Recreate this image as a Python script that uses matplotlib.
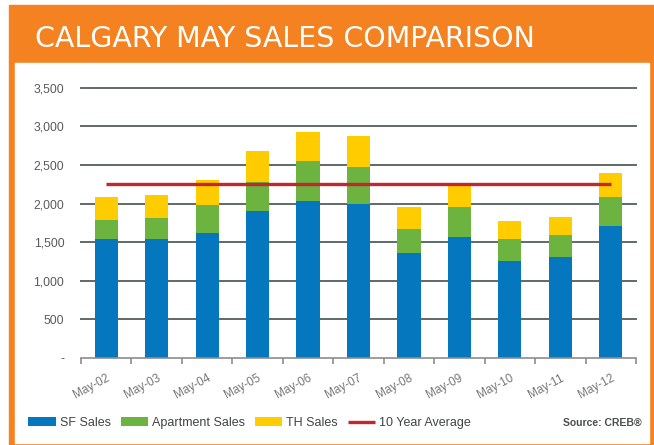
#!/usr/bin/env python3
# -*- coding: utf-8 -*-

import numpy as np
import matplotlib as mpl
mpl.use('Agg')
import matplotlib.pyplot as plt
from matplotlib.patches import Rectangle


##
## Data
##
years = ['May-02', 'May-03', 'May-04', 'May-05', 'May-06', 'May-07',
         'May-08', 'May-09', 'May-10', 'May-11', 'May-12']
sf_sales = [1538, 1538, 1625, 1901, 2031, 1988, 1366, 1564, 1253, 1305, 1703]
apt_sales = [247, 273, 359, 381, 514, 484, 306, 385, 285, 285, 384]
th_sales = [298, 298, 315, 402, 385, 406, 277, 290, 234, 238, 307]
ten_year_avg = [2256] * len(years)
yticks = [0, 500, 1000, 1500, 2000, 2500, 3000, 3500]

c_sf = '#0577BF'
c_apt = '#6CB33F'
c_th = '#FFCC00'
c_avg = '#C1272D'
c_orange = '#F58220'
c_grid = '#5E6A65'
c_text = '#5A5A5A'

W, H = 654, 445
fig = plt.figure(figsize=(W / 100, H / 100), dpi=100)
fig.patch.set_facecolor('white')

## orange frame + white panel (pixel coords -> figure fraction)
def px(x0, y0, x1, y1):
    return (x0 / W, 1 - y1 / H), (x1 - x0) / W, (y1 - y0) / H

xy, w, h = px(9, 5, 660, 450)
fig.patches.append(Rectangle(xy, w, h, transform=fig.transFigure, color=c_orange, zorder=-2))
xy, w, h = px(15, 63, 649, 443)
fig.patches.append(Rectangle(xy, w, h, transform=fig.transFigure, color='white', zorder=-1))

fig.text(35 / W, 1 - 47 / H, 'CALGARY MAY SALES COMPARISON', color='white',
         fontsize=20.5, family='DejaVu Sans', ha='left', va='baseline')


##
## Chart
##
ax = fig.add_axes([81 / W, 1 - 358 / H, (636 - 81) / W, (358 - 87.7) / H])
ax.set_facecolor('none')
x = np.arange(len(years))
bw = 0.46
sf = np.array(sf_sales)
apt = np.array(apt_sales)
th = np.array(th_sales)
b1 = ax.bar(x, sf, bw, color=c_sf, label='SF Sales', zorder=3)
b2 = ax.bar(x, apt, bw, bottom=sf, color=c_apt, label='Apartment Sales', zorder=3)
b3 = ax.bar(x, th, bw, bottom=sf + apt, color=c_th, label='TH Sales', zorder=3)
l1, = ax.plot(x, ten_year_avg, color=c_avg, lw=2.4, solid_capstyle='butt', label='10 Year Average', zorder=4)

ax.set_xlim(-0.5, len(years) - 0.5)
ax.set_ylim(0, 3500)
ax.set_yticks(yticks)
ax.set_yticklabels(['-' if v == 0 else f'{v:,}' for v in yticks])
for v in yticks[1:]:
    ax.axhline(v, color=c_grid, lw=1.4, zorder=1, clip_on=False)

for s in ['top', 'right', 'left']:
    ax.spines[s].set_visible(False)
ax.spines['bottom'].set_color('#8C8C8C')
ax.spines['bottom'].set_linewidth(1.2)
ax.spines['bottom'].set_zorder(5)

ax.set_xticks(np.arange(-0.5, len(years)), minor=False)
ax.set_xticklabels([])
ax.tick_params(axis='x', which='major', length=4, width=1.2, color='#8C8C8C', direction='out')
ax.set_xticks(x, minor=True)
ax.set_xticklabels(years, minor=True, rotation=28, ha='right', rotation_mode='anchor',
                   fontsize=8.5, color='#777777', family='Liberation Sans')
ax.tick_params(axis='x', which='minor', length=0, pad=10)
ax.tick_params(axis='y', length=0, pad=12, labelsize=8.8, labelcolor=c_text)
for t in ax.get_yticklabels():
    t.set_family('Liberation Sans')


##
## Legend + source
##
leg = fig.legend(handles=[b1, b2, b3, l1], loc='center left', bbox_to_anchor=(22 / W, 1 - 423 / H),
                 ncol=4, frameon=False, handlelength=2.2, handleheight=0.65,
                 handletextpad=0.3, columnspacing=0.8, borderpad=0,
                 prop=dict(family='Liberation Sans', size=9))
for t in leg.get_texts():
    t.set_color('#3F4542')

fig.text(642 / W, 1 - 423 / H, 'Source: CREB®', ha='right', va='center', fontsize=7.5,
         weight='bold', color='#4A4F4C', family='Liberation Sans')

fig.savefig('out.png', dpi=100)
